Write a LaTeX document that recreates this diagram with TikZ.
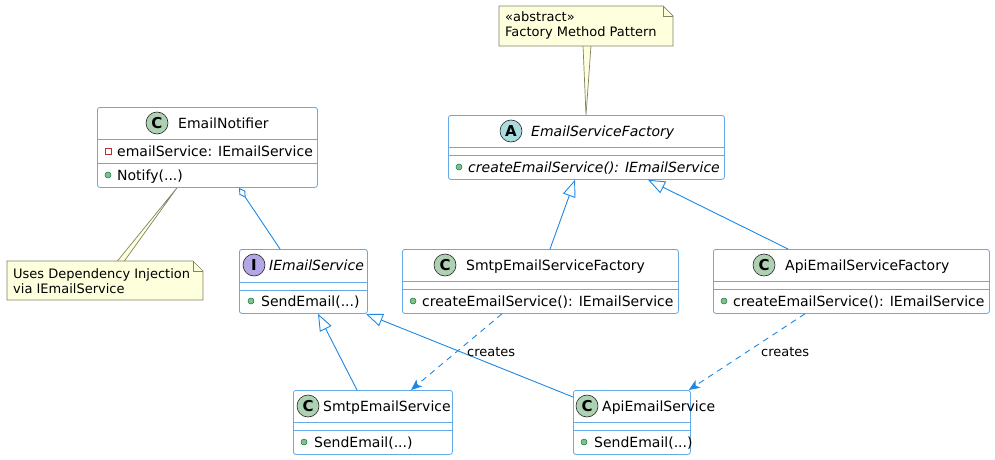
\documentclass[tikz,border=0pt]{standalone}
\usepackage{fontspec}
\setmainfont{DejaVu Sans}
\usetikzlibrary{arrows.meta}
\definecolor{bord}{RGB}{98,170,232}
\definecolor{edgec}{RGB}{30,136,229}
\definecolor{notefill}{RGB}{254,255,221}
\definecolor{noteline}{RGB}{130,130,100}
\definecolor{cspot}{RGB}{173,209,178}
\definecolor{aspot}{RGB}{169,220,223}
\definecolor{ispot}{RGB}{180,167,229}
\definecolor{pubfill}{RGB}{132,190,132}
\definecolor{publine}{RGB}{3,128,72}
\definecolor{privline}{RGB}{200,41,48}
\begin{document}
\begin{tikzpicture}[x=1pt,y=-1pt,
  cls/.style={draw=bord, line width=0.8pt, rounded corners=2.5pt, fill=white, inner sep=0, anchor=north west},
  sepline/.style={draw=bord, line width=0.8pt},
  spot/.style={circle, draw=black!85, line width=0.6pt, minimum size=22pt, inner sep=0, font=\fontsize{15}{15}\selectfont\bfseries},
  ttl/.style={anchor=base west, inner sep=0, font=\fontsize{14}{17}\selectfont},
  ittl/.style={ttl, font=\fontsize{14}{17}\selectfont\itshape},
  mem/.style={anchor=base west, inner sep=0, font=\fontsize{14}{17}\selectfont},
  imem/.style={mem, font=\fontsize{14}{17}\selectfont\itshape},
  pub/.style={circle, fill=pubfill, draw=publine, line width=0.5pt, minimum size=6pt, inner sep=0},
  priv/.style={rectangle, draw=privline, line width=0.7pt, minimum size=6pt, inner sep=0},
  notebody/.style={fill=notefill, draw=noteline, line width=0.7pt},
  ntxt/.style={anchor=base west, inner sep=0, font=\fontsize{13}{15}\selectfont},
  lbl/.style={anchor=base west, inner sep=0, font=\fontsize{13}{15}\selectfont},
  edge/.style={draw=edgec, line width=0.9pt},
  inh/.style={edge, -{Triangle[open, length=17pt, width=13pt, fill=white]}},
  dep/.style={edge, dash pattern=on 6pt off 5pt, -{Stealth[length=11pt, width=9pt, inset=3pt]}}
]
\useasboundingbox (0,0) rectangle (995,460);
\fill[white] (0,0) rectangle (995,460);

% ---------------- EmailNotifier
\node[cls, minimum width=220pt, minimum height=80pt] (en) at (97,107) {};
\draw[sepline] (97,139) -- (317,139);
\draw[sepline] (97,163) -- (317,163);
\node[spot, fill=cspot] (enS) at (157,123) {C};
\node[ttl] (enT) at (178,128) {EmailNotifier};
\node[priv] (enP1) at (108,151) {};
\node[mem] (enA) at (117,156.5) {emailService: IEmailService};
\node[pub] (enP2) at (108,175) {};
\node[mem] (enM) at (117,180.5) {Notify(...)};

% ---------------- EmailServiceFactory
\node[cls, minimum width=276pt, minimum height=64pt] (esf) at (448,115) {};
\draw[sepline] (448,147) -- (724,147);
\draw[sepline] (448,155) -- (724,155);
\node[spot, fill=aspot] (esfS) at (511,131) {A};
\node[ittl] (esfT) at (531,136.5) {EmailServiceFactory};
\node[pub] (esfP) at (459,167) {};
\node[imem] (esfM) at (468,172.5) {createEmailService(): IEmailService};

% ---------------- IEmailService
\node[cls, minimum width=128pt, minimum height=64pt] (ies) at (239,249) {};
\draw[sepline] (239,282) -- (367,282);
\draw[sepline] (239,290) -- (367,290);
\node[spot, fill=ispot] (iesS) at (254,265) {I};
\node[ittl] (iesT) at (269,270) {IEmailService};
\node[pub] (iesP) at (251,301) {};
\node[mem] (iesM) at (261,306.5) {SendEmail(...)};

% ---------------- SmtpEmailServiceFactory
\node[cls, minimum width=276pt, minimum height=64pt] (sesf) at (402,249) {};
\draw[sepline] (402,281) -- (678,281);
\draw[sepline] (402,289) -- (678,289);
\node[spot, fill=cspot] (sesfS) at (445,265) {C};
\node[ttl] (sesfT) at (466,270) {SmtpEmailServiceFactory};
\node[pub] (sesfP) at (413,301) {};
\node[mem] (sesfM) at (422,306.5) {createEmailService(): IEmailService};

% ---------------- ApiEmailServiceFactory
\node[cls, minimum width=276pt, minimum height=64pt] (aesf) at (713,249) {};
\draw[sepline] (713,281) -- (989,281);
\draw[sepline] (713,289) -- (989,289);
\node[spot, fill=cspot] (aesfS) at (764,265) {C};
\node[ttl] (aesfT) at (785,270) {ApiEmailServiceFactory};
\node[pub] (aesfP) at (724,301) {};
\node[mem] (aesfM) at (733,306.5) {createEmailService(): IEmailService};

% ---------------- SmtpEmailService
\node[cls, minimum width=159pt, minimum height=64pt] (ses) at (293,390) {};
\draw[sepline] (293,422) -- (452,422);
\draw[sepline] (293,430) -- (452,430);
\node[spot, fill=cspot] (sesS) at (308,406) {C};
\node[ttl] (sesT) at (323,411) {SmtpEmailService};
\node[pub] (sesP) at (304,442) {};
\node[mem] (sesM) at (314,447.5) {SendEmail(...)};

% ---------------- ApiEmailService
\node[cls, minimum width=117pt, minimum height=64pt] (aes) at (573,390) {};
\draw[sepline] (573,422) -- (690,422);
\draw[sepline] (573,430) -- (690,430);
\node[spot, fill=cspot] (aesS) at (587,406) {C};
\node[ttl] (aesT) at (602,411) {ApiEmailService};
\node[pub] (aesP) at (584,442) {};
\node[mem] (aesM) at (594,447.5) {SendEmail(...)};

% ---------------- Notes
% note 1
\filldraw[notebody] (117,261.5) -- ([xshift=80pt]en.south west) -- (124,261.5) -- cycle;
\filldraw[notebody] (7,261) -- (193,261) -- (203,271) -- (203,300) -- (7,300) -- cycle;
\draw[noteline, line width=0.7pt] (193,261) -- (193,271) -- (203,271);
\node[ntxt] (n1a) at (13,278) {Uses Dependency Injection};
\node[ntxt] (n1b) at (13,293) {via IEmailService};
% note 2
\filldraw[notebody] (583,45.5) -- ([xshift=138pt]esf.north west) -- (591,45.5) -- cycle;
\filldraw[notebody] (499,6) -- (663,6) -- (673,16) -- (673,46) -- (499,46) -- cycle;
\draw[noteline, line width=0.7pt] (663,6) -- (663,16) -- (673,16);
\node[ntxt] (n2a) at (505,22) {«abstract»};
\node[ntxt] (n2b) at (505,37) {Factory Method Pattern};

% ---------------- Connectors
\draw[edge, {Diamond[open, length=12pt, width=7pt, fill=white]}-] ([xshift=142pt]en.south west) -- ([xshift=41pt]ies.north west);
\draw[inh] ([xshift=148pt]sesf.north west) -- ([xshift=127pt]esf.south west);
\draw[inh] ([xshift=75pt]aesf.north west) -- ([xshift=200pt]esf.south west);
\draw[inh] ([xshift=64pt]ses.north west) -- ([xshift=79pt]ies.south west);
\draw[inh] ([yshift=-7pt]aes.north west) -- ([xshift=-2pt]ies.south east);
\draw[dep] ([xshift=100pt]sesf.south west) -- ([xshift=118pt]ses.north west);
\draw[dep] ([xshift=92pt]aesf.south west) -- ([xshift=-2pt]aes.north east);
\node[lbl] (c1) at (467,356) {creates};
\node[lbl] (c2) at (761,356) {creates};
\end{tikzpicture}
\end{document}
